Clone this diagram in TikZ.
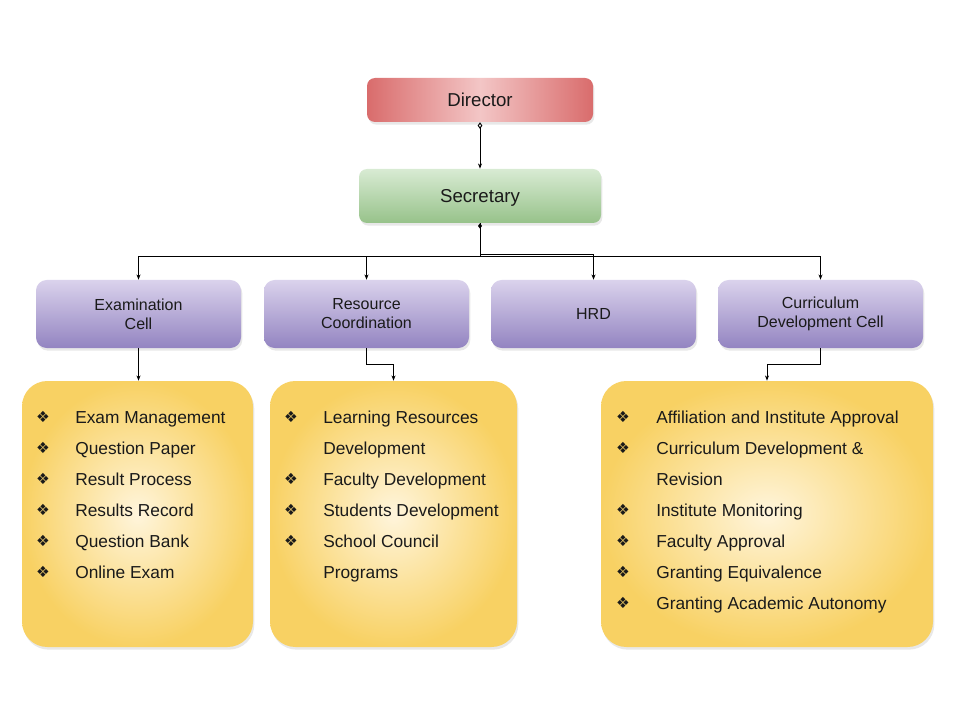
\documentclass[tikz,border=0pt]{standalone}
\usepackage{fontspec}
\setmainfont{Liberation Sans}
\newfontfamily\symfont{DejaVu Sans}
\usetikzlibrary{arrows.meta,shadows}
\definecolor{redEdge}{HTML}{D96C6C}
\definecolor{redMid}{HTML}{F3C6C6}
\definecolor{greenTop}{HTML}{D8EBD3}
\definecolor{greenBot}{HTML}{97C28A}
\definecolor{purTop}{HTML}{DAD2EC}
\definecolor{purBot}{HTML}{9384C1}
\definecolor{yelIn}{HTML}{FFF5DC}
\definecolor{yelOut}{HTML}{F8D163}
\definecolor{txt}{HTML}{1A1A1A}
\tikzset{
  shadowed/.style={drop shadow={opacity=0.18,shadow xshift=1pt,shadow yshift=-2pt}},
  topbox/.style={rounded corners=6pt,shadowed,text=txt,font=\fontsize{14}{17}\selectfont,align=center,inner sep=0pt,text depth=0pt},
  purbox/.style={rounded corners=8pt,shadowed,top color=purTop,bottom color=purBot,draw=none,
     minimum width=153.75pt,minimum height=51pt,text=txt,font=\fontsize{12}{14.25}\selectfont,align=center,inner sep=0pt},
  yelbox/.style={rounded corners=19pt,shadowed,shading=radial,inner color=yelIn,outer color=yelOut,
     minimum height=199.5pt,inner sep=0pt},
  itemtxt/.style={anchor=mid west,inner sep=0pt,yshift=-2.3pt,text=txt,font=\fontsize{13}{15}\selectfont},
  bul/.style={inner sep=0pt,text=txt,font=\symfont\fontsize{11.5}{12}\selectfont},
  conn/.style={draw=black,line width=0.7pt,-{Stealth[length=4pt,width=3pt]}},
}
\begin{document}
\begin{tikzpicture}[x=0.75pt,y=-0.75pt]
\useasboundingbox (0,0) rectangle (960,720);

% top boxes
\node[topbox,minimum width=169.5pt,minimum height=33pt,left color=redEdge,right color=redEdge,middle color=redMid] (dir) at (480,100) {Director};
\node[topbox,minimum width=181.5pt,minimum height=40.5pt,top color=greenTop,bottom color=greenBot] (sec) at (480,196) {Secretary};

% purple boxes
\node[purbox] (exam) at (138.5,314) {Examination\\Cell};
\node[purbox] (res) at (366.5,314) {Resource\\Coordination};
\node[purbox] (hrd) at (593.5,314) {HRD};
\node[purbox] (cur) at (820.5,314) {Curriculum\\Development Cell};

% yellow boxes
\node[yelbox,minimum width=173.25pt] (examlist) at (137.5,514) {};
\node[yelbox,minimum width=185.25pt] (reslist) at (393.5,514) {};
\node[yelbox,minimum width=249pt] (curlist) at (767,514) {};

% connectors
\draw[conn,{Diamond[open,length=5pt,width=3.5pt]}-{Stealth[length=4pt,width=3pt]}] (dir.south) -- (sec.north);
\draw[conn,{Diamond[length=4pt,width=3pt]}-{Stealth[length=4pt,width=3pt]}] (sec.south) -- ++(0,33) -| (exam.north);
\draw[conn] (sec.south) -- ++(0,33) -| (res.north);
\draw[conn] (sec.south) -- ++(0,31) -| (hrd.north);
\draw[conn] (sec.south) -- ++(0,33) -| (cur.north);
\draw[conn] (exam.south) -- (exam.south |- examlist.north);
\draw[conn] (res.south) -- ++(0,16) -| (reslist.north);
\draw[conn] (cur.south) -- ++(0,16) -| (curlist.north);

% exam list
\node[bul] (eb1) at (43,417) {❖};
\node[itemtxt] (e1) at (75,417) {Exam Management};
\node[bul] (eb2) at (43,448) {❖};
\node[itemtxt] (e2) at (75,448) {Question Paper};
\node[bul] (eb3) at (43,479) {❖};
\node[itemtxt] (e3) at (75,479) {Result Process};
\node[bul] (eb4) at (43,510) {❖};
\node[itemtxt] (e4) at (75,510) {Results Record};
\node[bul] (eb5) at (43,541) {❖};
\node[itemtxt] (e5) at (75,541) {Question Bank};
\node[bul] (eb6) at (43,572) {❖};
\node[itemtxt] (e6) at (75,572) {Online Exam};

% resource list
\node[bul] (rb1) at (291,417) {❖};
\node[itemtxt] (r1) at (323,417) {Learning Resources};
\node[itemtxt] (r1b) at (323,448) {Development};
\node[bul] (rb2) at (291,479) {❖};
\node[itemtxt] (r2) at (323,479) {Faculty Development};
\node[bul] (rb3) at (291,510) {❖};
\node[itemtxt] (r3) at (323,510) {Students Development};
\node[bul] (rb4) at (291,541) {❖};
\node[itemtxt] (r4) at (323,541) {School Council};
\node[itemtxt] (r4b) at (323,572) {Programs};

% curriculum list
\node[bul] (cb1) at (623,417) {❖};
\node[itemtxt] (c1) at (656,417) {Affiliation and Institute Approval};
\node[bul] (cb2) at (623,448) {❖};
\node[itemtxt] (c2) at (656,448) {Curriculum Development \&};
\node[itemtxt] (c2b) at (656,479) {Revision};
\node[bul] (cb3) at (623,510) {❖};
\node[itemtxt] (c3) at (656,510) {Institute Monitoring};
\node[bul] (cb4) at (623,541) {❖};
\node[itemtxt] (c4) at (656,541) {Faculty Approval};
\node[bul] (cb5) at (623,572) {❖};
\node[itemtxt] (c5) at (656,572) {Granting Equivalence};
\node[bul] (cb6) at (623,603) {❖};
\node[itemtxt] (c6) at (656,603) {Granting Academic Autonomy};
\end{tikzpicture}
\end{document}
